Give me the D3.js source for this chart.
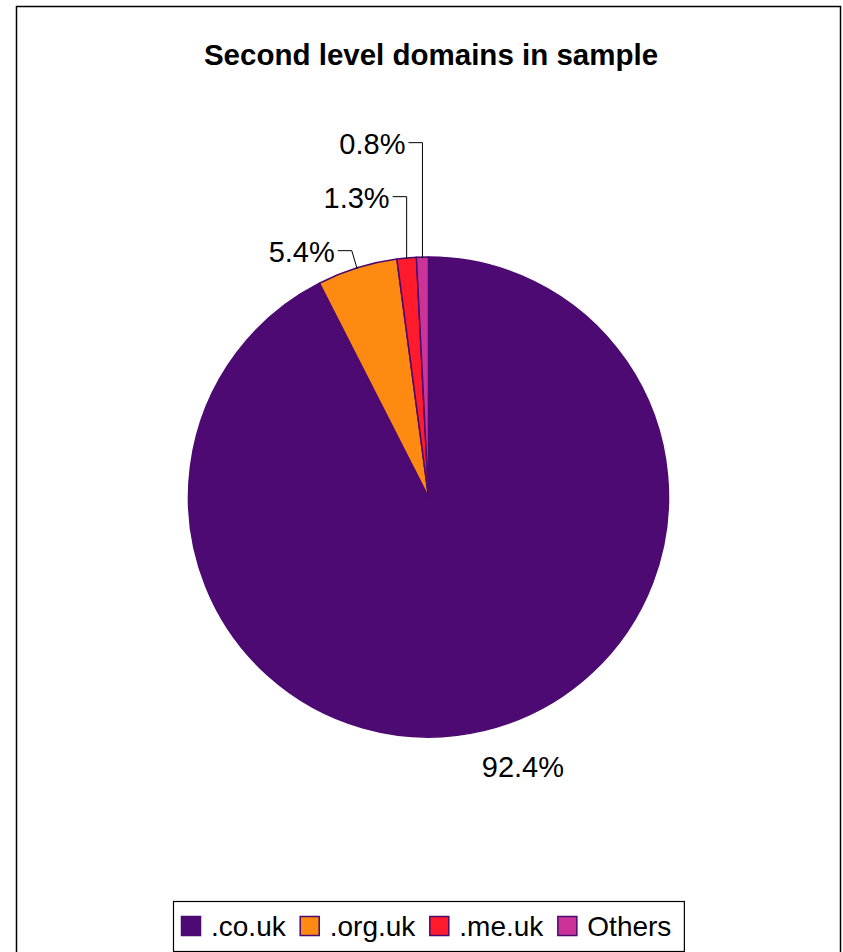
<!DOCTYPE html>
<html>
<head>
<meta charset="utf-8">
<script src="https://cdn.jsdelivr.net/npm/d3@7"></script>
<style>
  html, body { margin: 0; padding: 0; background: #fff; }
  svg { display: block; font-family: "Liberation Sans", Arial, sans-serif; }
</style>
</head>
<body>
<svg id="chart" width="843" height="952"></svg>
<script>
const title = "Second level domains in sample";
const categories = [".co.uk", ".org.uk", ".me.uk", "Others"];
const values = [92.4, 5.4, 1.3, 0.8];
const labels = ["92.4%", "5.4%", "1.3%", "0.8%"];
const colors = ["#4D0A73", "#FF8A12", "#FF1A2C", "#CC3399"];
const strokeColor = "#4B0A70";

const svg = d3.select("#chart");
const W = 843, H = 952;
const FS = 29;
const LFS = 28;

// frame
svg.append("rect")
  .attr("x", 16.5).attr("y", 6.5)
  .attr("width", 824).attr("height", 960)
  .attr("fill", "#fff").attr("stroke", "#000").attr("stroke-width", 1.5);

// title
svg.append("text")
  .attr("x", 431).attr("y", 65)
  .attr("text-anchor", "middle")
  .attr("font-size", 29.5).attr("font-weight", "bold")
  .attr("fill", "#000")
  .text(title);

const cx = 428.5, cy = 497, R = 240;
const data = categories.map((c, i) => ({ cat: c, value: values[i], label: labels[i], color: colors[i] }));

const pie = d3.pie().value(d => d.value).sort(null);
const arcs = pie(data);
const arc = d3.arc().innerRadius(0).outerRadius(R);

const g = svg.append("g").attr("transform", `translate(${cx},${cy})`);
g.selectAll("path.slice")
  .data(arcs)
  .enter().append("path")
  .attr("class", "slice")
  .attr("d", arc)
  .attr("fill", d => d.data.color)
  .attr("stroke", strokeColor)
  .attr("stroke-width", 1.5)
  .attr("stroke-linejoin", "round");

function pt(angle, r) {
  return [r * Math.sin(angle), -r * Math.cos(angle)];
}

// big slice label
arcs.forEach((a) => {
  const mid = (a.startAngle + a.endAngle) / 2;
  if (a.data.value > 50) {
    const p = pt(mid, R + 40);
    g.append("text")
      .attr("x", p[0] + 29).attr("y", p[1] + 8)
      .attr("text-anchor", "middle")
      .attr("font-size", FS).attr("fill", "#000")
      .text(a.data.label);
  }
});

// small slice labels with leader lines, stacked upward
let prevY = Infinity;
arcs.forEach((a) => {
  if (a.data.value > 50) return;
  const mid = (a.startAngle + a.endAngle) / 2;
  const edge = pt(mid, R);
  const elbow = pt(mid, R + 18);
  let ly = elbow[1];
  if (ly > prevY - 54) ly = prevY - 54;
  const ex = ly < elbow[1] - 1 ? edge[0] : elbow[0];
  prevY = ly;
  const path = d3.path();
  path.moveTo(ex - 14, ly);
  path.lineTo(ex, ly);
  path.lineTo(edge[0], edge[1] + 1);
  g.append("path")
    .attr("d", path.toString())
    .attr("fill", "none")
    .attr("stroke", "#000")
    .attr("stroke-width", 1);
  g.append("text")
    .attr("x", ex - 17).attr("y", ly + 11)
    .attr("text-anchor", "end")
    .attr("font-size", FS).attr("fill", "#000")
    .text(a.data.label);
});

// legend
const lg = svg.append("g");
const lgBox = lg.append("rect")
  .attr("x", 173.5).attr("y", 901.5)
  .attr("height", 50)
  .attr("fill", "#fff").attr("stroke", "#000").attr("stroke-width", 1.2);
let x = 181;
data.forEach((d) => {
  lg.append("rect")
    .attr("x", x + 0.5).attr("y", 916.5)
    .attr("width", 19).attr("height", 19)
    .attr("fill", d.color).attr("stroke", strokeColor).attr("stroke-width", 1.5);
  x += 19 + 11;
  const t = lg.append("text")
    .attr("x", x).attr("y", 936)
    .attr("font-size", LFS).attr("fill", "#000")
    .text(d.cat);
  x += t.node().getComputedTextLength() + 14;
});
lgBox.attr("width", x - 14 + 13 - 173.5);
</script>
</body>
</html>
